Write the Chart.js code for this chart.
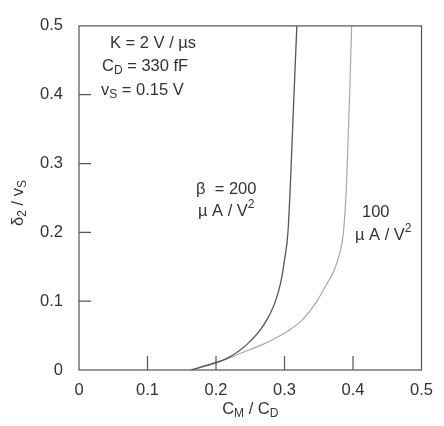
<!DOCTYPE html>
<html>
<head>
<meta charset="utf-8">
<script src="https://cdn.jsdelivr.net/npm/chart.js@4/dist/chart.umd.min.js"></script>
<style>
  html, body { margin: 0; padding: 0; background: #fff; }
  canvas { display: block; }
</style>
</head>
<body>
<canvas id="chart" width="444" height="426"></canvas>
<script>
// ticks
const xTicks = [0, 0.1, 0.2, 0.3, 0.4, 0.5];
const yTicks = [0, 0.1, 0.2, 0.3, 0.4, 0.5];

// beta = 200 uA/V^2 (dark curve)
const beta200X = [0.163, 0.2, 0.218, 0.246, 0.27, 0.285, 0.294, 0.3, 0.305, 0.309, 0.313, 0.318];
const beta200Y = [0, 0.011, 0.018, 0.038, 0.066, 0.095, 0.125, 0.16, 0.2, 0.28, 0.38, 0.5];

// beta = 100 uA/V^2 (light curve)
const beta100X = [0.163, 0.2, 0.238, 0.27, 0.29, 0.31, 0.327, 0.346, 0.36, 0.372, 0.38, 0.386, 0.39, 0.392, 0.395, 0.398];
const beta100Y = [0, 0.01, 0.025, 0.038, 0.048, 0.06, 0.074, 0.098, 0.122, 0.144, 0.168, 0.2, 0.26, 0.31, 0.4, 0.5];

const FAMILY = '"Liberation Sans", Arial, sans-serif';
const FONT = '16.5px ' + FAMILY;
const SMALL = '12px ' + FAMILY;
const INK = '#333';

const toPoints = (xs, ys) => xs.map((x, i) => ({ x: x, y: ys[i] }));

// draw text with sub/superscripts, parts: [text, mode]
function rich(ctx, parts, x, y, align) {
    ctx.textBaseline = 'middle';
    ctx.textAlign = 'left';
    let w = 0;
    parts.forEach(p => {
        ctx.font = p[1] ? SMALL : FONT;
        w += ctx.measureText(p[0]).width;
    });
    let cx = align === 'center' ? x - w / 2 : x;
    parts.forEach(p => {
        ctx.font = p[1] ? SMALL : FONT;
        let dy = p[1] === 'sub' ? 5 : p[1] === 'sup' ? -6 : 0;
        ctx.fillText(p[0], cx, y + dy);
        cx += ctx.measureText(p[0]).width;
    });
}

const framePlugin = {
    id: 'frame',
    afterDatasetsDraw(chart) {
        const ctx = chart.ctx;
        const a = chart.chartArea;
        const xs = chart.scales.x, ys = chart.scales.y;
        ctx.save();
        ctx.strokeStyle = '#555';
        ctx.lineWidth = 1.2;
        ctx.strokeRect(a.left, a.top, a.right - a.left, a.bottom - a.top);
        ctx.beginPath();
        [0.1, 0.2, 0.3, 0.4].forEach(v => {
            const px = xs.getPixelForValue(v);
            ctx.moveTo(px, a.bottom);
            ctx.lineTo(px, a.bottom - 14);
            const py = ys.getPixelForValue(v);
            ctx.moveTo(a.left, py);
            ctx.lineTo(a.left + 12, py);
        });
        ctx.stroke();

        ctx.fillStyle = INK;
        // parameters
        rich(ctx, [['K = 2 V / µs']], 110, 43);
        rich(ctx, [['C'], ['D', 'sub'], [' = 330 fF']], 102, 66);
        rich(ctx, [['v'], ['S', 'sub'], [' = 0.15 V']], 101, 90);
        // curve labels
        rich(ctx, [['β  = 200']], 196, 189);
        rich(ctx, [['µ A / V'], ['2', 'sup']], 198, 211);
        rich(ctx, [['100']], 362, 212);
        rich(ctx, [['µ A / V'], ['2', 'sup']], 355, 235);
        // axis titles
        rich(ctx, [['C'], ['M', 'sub'], [' / C'], ['D', 'sub']], (a.left + a.right) / 2, 409, 'center');
        ctx.translate(18, 203);
        ctx.rotate(-Math.PI / 2);
        rich(ctx, [['δ'], ['2', 'sub'], [' / v'], ['S', 'sub']], 0, 0, 'center');
        ctx.restore();
    }
};

new Chart(document.getElementById('chart'), {
    type: 'scatter',
    data: {
        datasets: [
            {
                label: 'β = 200 µA/V²',
                data: toPoints(beta200X, beta200Y),
                showLine: true,
                cubicInterpolationMode: 'monotone',
                borderColor: '#555',
                borderWidth: 1.3,
                pointRadius: 0
            },
            {
                label: 'β = 100 µA/V²',
                data: toPoints(beta100X, beta100Y),
                showLine: true,
                cubicInterpolationMode: 'monotone',
                borderColor: '#a8a8a8',
                borderWidth: 1.2,
                pointRadius: 0
            }
        ]
    },
    options: {
        responsive: false,
        animation: false,
        layout: { padding: { top: 13, right: 12, left: 0, bottom: 0 } },
        plugins: {
            legend: { display: false },
            tooltip: { enabled: false }
        },
        scales: {
            x: {
                type: 'linear',
                min: 0,
                max: 0.5,
                afterBuildTicks: s => { s.ticks = xTicks.map(v => ({ value: v })); },
                afterFit: s => { s.height = 56; },
                grid: { display: false, drawTicks: false },
                border: { display: false },
                ticks: {
                    color: INK,
                    font: { family: FAMILY, size: 16.5 },
                    padding: 11,
                    maxRotation: 0,
                    callback: v => v === 0 ? '0' : String(v)
                }
            },
            y: {
                type: 'linear',
                min: 0,
                max: 0.5,
                afterBuildTicks: s => { s.ticks = yTicks.map(v => ({ value: v })); },
                afterFit: s => { s.width = 79; },
                grid: { display: false, drawTicks: false },
                border: { display: false },
                ticks: {
                    color: INK,
                    font: { family: FAMILY, size: 16.5 },
                    padding: 16,
                    callback: v => v === 0 ? '0' : String(v)
                }
            }
        }
    },
    plugins: [framePlugin]
});
</script>
</body>
</html>
